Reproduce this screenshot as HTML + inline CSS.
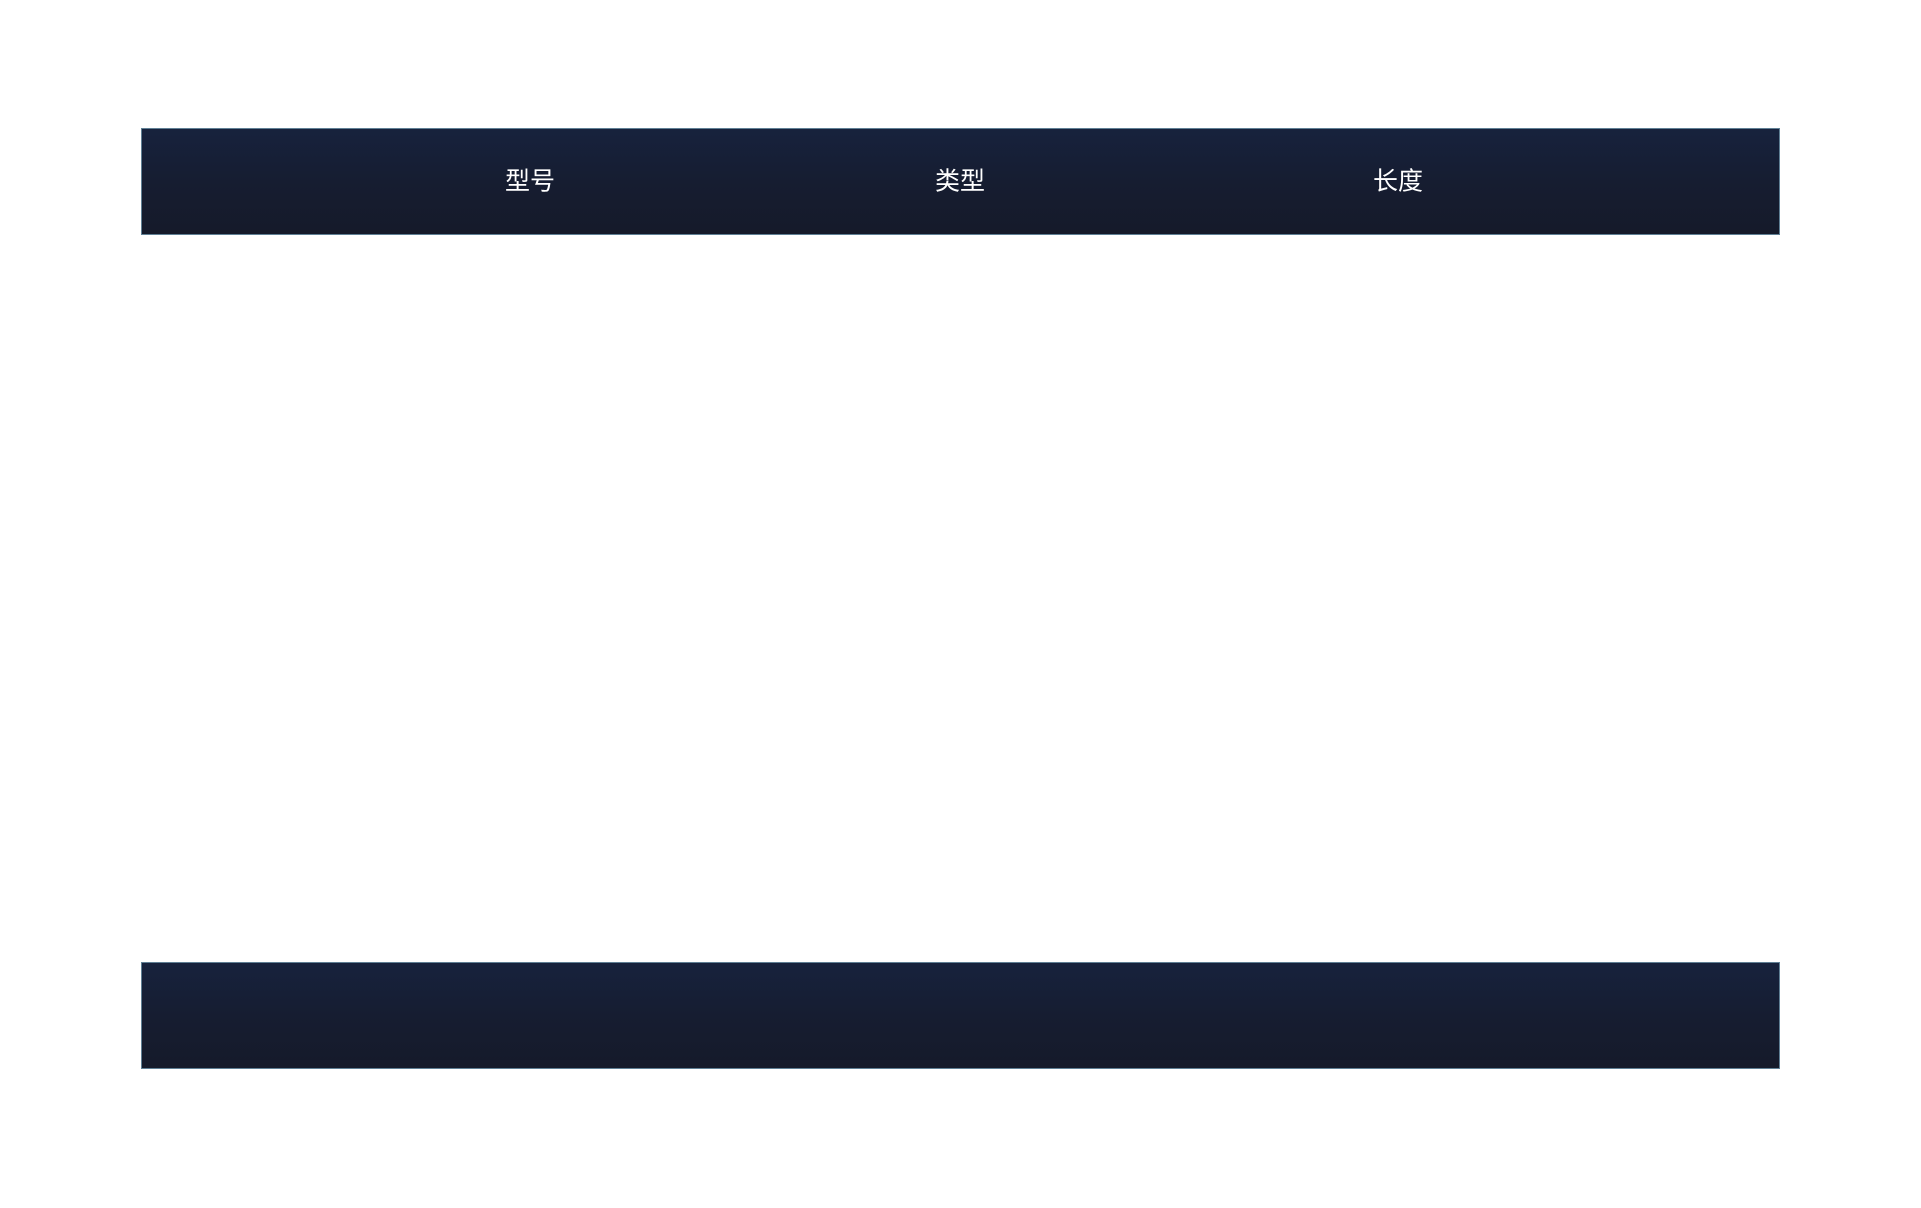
<!DOCTYPE html>
<html>
<head>
<meta charset="utf-8">
<style>
  html, body { margin:0; padding:0; background:#ffffff; }
  body { width:1921px; height:1208px; position:relative; overflow:hidden;
         font-family:"Liberation Sans","Noto Sans CJK SC",sans-serif; }
  .bar { position:absolute; left:141px; width:1639px; height:107px; box-sizing:border-box;
         background:linear-gradient(to bottom,#17223d 0%,#161d31 50%,#151a2a 100%);
         border:1px solid #5f7f94; }
  .t { position:absolute; top:182px; transform:translate(-50%,-50%); color:#ffffff;
       font-size:25px; line-height:1; white-space:nowrap; }
</style>
</head>
<body>
  <div class="bar" style="top:128px;"></div>
  <div class="bar" style="top:962px;"></div>
  <div class="t" style="left:530px;">型号</div>
  <div class="t" style="left:960px;">类型</div>
  <div class="t" style="left:1398px;">长度</div>
</body>
</html>
